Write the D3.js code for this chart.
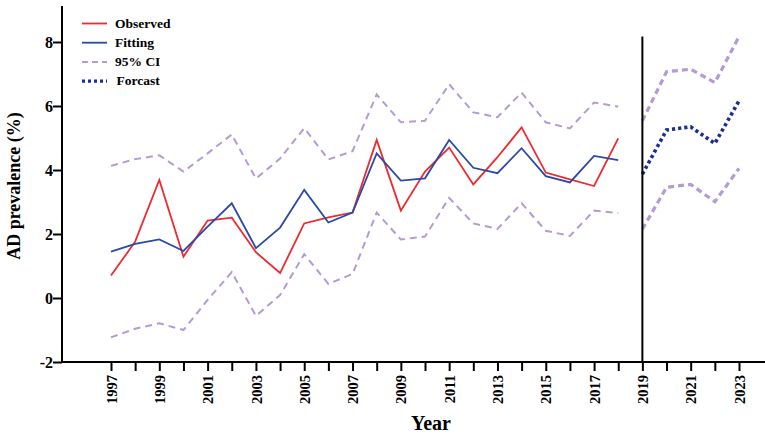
<!DOCTYPE html>
<html>
<head>
<meta charset="utf-8">
<script src="https://cdn.jsdelivr.net/npm/d3@7"></script>
<style>
  html, body { margin: 0; padding: 0; background: #fff; }
  svg { display: block; }
  text { font-family: "Liberation Serif", "Times New Roman", serif; font-weight: bold; fill: #000; }
</style>
</head>
<body>
<svg id="chart" width="765" height="437"></svg>
<script>
// ---- data ----
const obsYears = [1997,1998,1999,2000,2001,2002,2003,2004,2005,2006,2007,2008,2009,2010,2011,2012,2013,2014,2015,2016,2017,2018];
const observed = [0.70,1.76,3.69,1.29,2.42,2.51,1.43,0.78,2.33,2.52,2.67,4.94,2.73,3.95,4.70,3.55,4.40,5.33,3.92,3.71,3.50,4.99];
const fitting  = [1.45,1.69,1.83,1.47,2.23,2.96,1.56,2.20,3.38,2.36,2.67,4.52,3.67,3.74,4.94,4.07,3.90,4.68,3.81,3.61,4.44,4.31];
const ciUpper  = [4.13,4.34,4.46,3.95,4.52,5.11,3.73,4.36,5.31,4.33,4.59,6.36,5.49,5.54,6.68,5.80,5.65,6.42,5.49,5.30,6.11,5.98];
const ciLower  = [-1.23,-0.96,-0.79,-1.00,-0.06,0.81,-0.56,0.09,1.37,0.44,0.75,2.67,1.83,1.92,3.13,2.33,2.16,2.96,2.10,1.94,2.73,2.65];
const fcYears  = [2019,2020,2021,2022,2023];
const forecast = [3.87,5.25,5.35,4.83,6.16];
const fcUpper  = [5.54,7.07,7.15,6.73,8.17];
const fcLower  = [2.15,3.46,3.55,3.01,4.05];
const xTickYears = [1997,1998,1999,2000,2001,2002,2003,2004,2005,2006,2007,2008,2009,2010,2011,2012,2013,2014,2015,2016,2017,2018,2019,2020,2021,2022,2023];
const xLabelYears = [1997,1999,2001,2003,2005,2007,2009,2011,2013,2015,2017,2019,2021,2023];
const yTicks = [-2,0,2,4,6,8];
const legendItems = ["Observed","Fitting","95% CI","Forcast"];
const splitYear = 2019;

// ---- layout ----
const svg = d3.select("#chart");
const axisX0 = 62, axisY0 = 362;
const x = d3.scaleLinear().domain([1997, 2023]).range([111, 739]);
const y = d3.scaleLinear().domain([-2, 9.125]).range([362, 6]);

const colors = { obs: "#ee2a30", fit: "#2b49a6", ci: "#b39bd3", fc: "#1a2d96" };

// ---- lines ----
const line = d3.line().x(d => x(d[0])).y(d => y(d[1]));
const zipS = (xs, vs) => xs.map((v, i) => [v, vs[i]]);

svg.append("path").attr("d", line(zipS(obsYears, ciUpper)))
  .attr("fill", "none").attr("stroke", colors.ci).attr("stroke-width", 2).attr("stroke-dasharray", "7,5");
svg.append("path").attr("d", line(zipS(obsYears, ciLower)))
  .attr("fill", "none").attr("stroke", colors.ci).attr("stroke-width", 2).attr("stroke-dasharray", "7,5");
svg.append("path").attr("d", line(zipS(obsYears, observed)))
  .attr("fill", "none").attr("stroke", colors.obs).attr("stroke-width", 1.8);
svg.append("path").attr("d", line(zipS(obsYears, fitting)))
  .attr("fill", "none").attr("stroke", colors.fit).attr("stroke-width", 1.8);

svg.append("path").attr("d", line(zipS(fcYears, fcUpper)))
  .attr("fill", "none").attr("stroke", colors.ci).attr("stroke-width", 3.2).attr("stroke-dasharray", "6,4");
svg.append("path").attr("d", line(zipS(fcYears, fcLower)))
  .attr("fill", "none").attr("stroke", colors.ci).attr("stroke-width", 3.2).attr("stroke-dasharray", "6,4");
svg.append("path").attr("d", line(zipS(fcYears, forecast)))
  .attr("fill", "none").attr("stroke", colors.fc).attr("stroke-width", 3.6).attr("stroke-dasharray", "3.2,3");

// vertical divider at 2019
svg.append("line").attr("x1", x(splitYear)).attr("x2", x(splitYear))
  .attr("y1", 36.5).attr("y2", axisY0).attr("stroke", "#000").attr("stroke-width", 2);

// ---- axes ----
const xAxis = d3.axisBottom(x).tickValues(xTickYears).tickSize(9)
  .tickFormat(d => xLabelYears.includes(d) ? String(d) : "");
const gx = svg.append("g").attr("transform", `translate(0,${axisY0})`).call(xAxis);
gx.select(".domain").attr("d", `M${axisX0},0H765`).attr("stroke-width", 2).attr("stroke", "#000");
gx.selectAll(".tick line").attr("stroke-width", 2).attr("stroke", "#000");
gx.selectAll(".tick text")
  .attr("transform", "rotate(-90)")
  .attr("x", -13).attr("y", 0).attr("dy", "0.35em")
  .attr("text-anchor", "end")
  .style("font-size", "14.5px").style("font-family", "'Liberation Serif', serif").style("font-weight", "bold");

const yAxis = d3.axisLeft(y).tickValues(yTicks).tickSize(9).tickFormat(d => String(d));
const gy = svg.append("g").attr("transform", `translate(${axisX0},0)`).call(yAxis);
gy.select(".domain").attr("d", `M0,${y(9.125)}V${axisY0}`).attr("stroke-width", 2).attr("stroke", "#000");
gy.selectAll(".tick line").attr("stroke-width", 2).attr("stroke", "#000");
gy.selectAll(".tick text").attr("x", -9).attr("dy", "0.34em")
  .style("font-size", "16px").style("font-family", "'Liberation Serif', serif").style("font-weight", "bold");

// ---- titles ----
svg.append("text").attr("x", 431).attr("y", 430).attr("text-anchor", "middle")
  .style("font-size", "20px").text("Year");
svg.append("text").attr("transform", "translate(20,186) rotate(-90)").attr("text-anchor", "middle")
  .style("font-size", "18px").text("AD prevalence (%)");

// ---- legend ----
const legendStyles = [
  { stroke: colors.obs, width: 1.8, dash: null },
  { stroke: colors.fit, width: 1.8, dash: null },
  { stroke: colors.ci, width: 2, dash: "6,4" },
  { stroke: colors.fc, width: 3.4, dash: "3,3" }
];
const lg = svg.append("g");
legendItems.forEach((name, i) => {
  const cy = 23.5 + i * 19.2;
  const st = legendStyles[i];
  const l = lg.append("line").attr("x1", 82).attr("x2", 107).attr("y1", cy).attr("y2", cy)
    .attr("stroke", st.stroke).attr("stroke-width", st.width);
  if (st.dash) l.attr("stroke-dasharray", st.dash);
  lg.append("text").attr("x", i === 3 ? 116.5 : 115).attr("y", cy + 4.3)
    .style("font-size", "13.5px").text(name);
});
</script>
</body>
</html>
